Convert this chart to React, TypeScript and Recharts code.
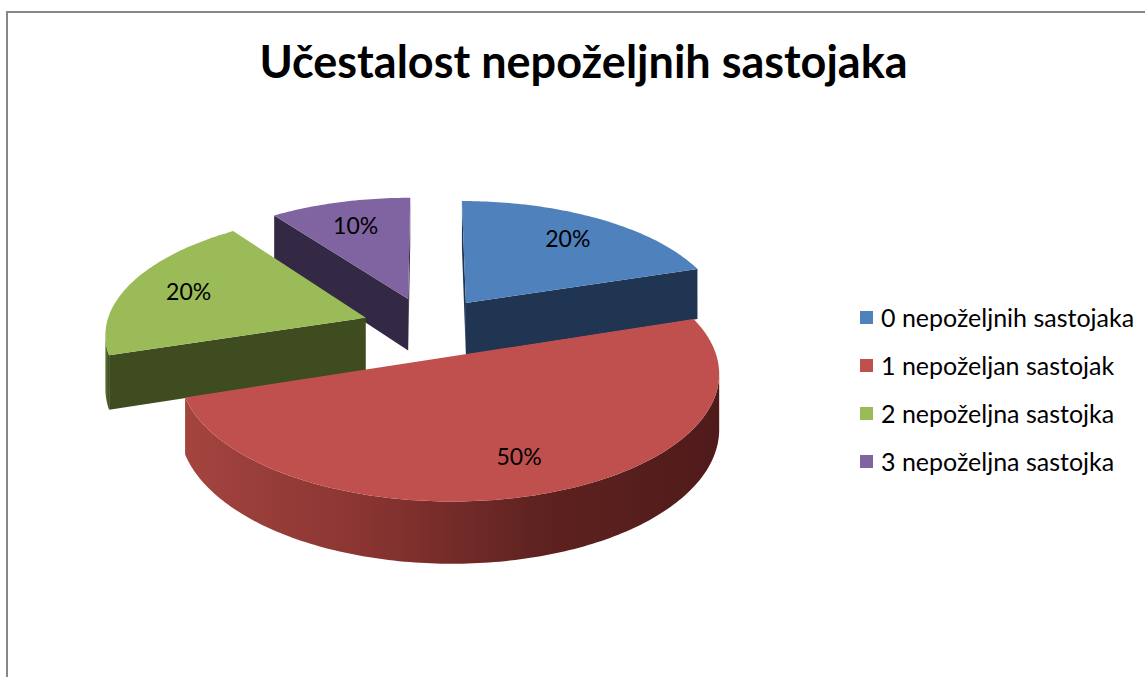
import React from 'react';
import { PieChart, Pie, Legend } from 'recharts';

const chartTitle = 'Učestalost nepoželjnih sastojaka';
const categories = ['0 nepoželjnih sastojaka', '1 nepoželjan sastojak', '2 nepoželjna sastojka', '3 nepoželjna sastojka'];
const shares = [20, 50, 20, 10];
const topColors = ['#4F81BD', '#C0504D', '#9BBB59', '#8064A2'];
const sideColors = ['#1F3552', '#7A2E2C', '#3E4C1F', '#342944'];
const wallStops = [
  ['#2E4F78', '#1E3350'],
  ['#A4443F', '#8A3532', '#5E2220', '#4F1B1A'],
  ['#5C7530', '#3E4C1F'],
  ['#4C3B63', '#342944'],
];

const data = categories.map((name, i) => ({ name, value: shares[i], idx: i, fill: topColors[i] }));

const W = 1145;
const H = 677;
const TILT = 0.46;
const PERSP = 0.12;
const DEPTH = 53;
const EXPLODE = 0.254;
const LABEL_R = 0.75;
const FONT = 'Lato, "Open Sans", sans-serif';

const rad = (d: number) => (d * Math.PI) / 180;

function projector(cx: number, cy: number, R: number) {
  return (x: number, z: number, h: number): [number, number] => {
    const s = 1 / (1 + (PERSP * z) / R);
    return [cx + x * s, cy - TILT * z * s + h * s];
  };
}

const pathOf = (pts: [number, number][]) =>
  pts.map((p, i) => `${i ? 'L' : 'M'}${p[0].toFixed(2)},${p[1].toFixed(2)}`).join(' ') + ' Z';

function makeShape(layer: number[]) {
  return (props: any) => {
    const idx = props.payload?.idx ?? props.idx ?? props.index;
    if (!layer.includes(idx)) return <g />;
    const { cx, cy, outerRadius: R, startAngle, endAngle } = props;
    const P = projector(cx, cy, R);
    const t0 = 90 - startAngle;
    const t1 = 90 - endAngle;
    const mid = rad((t0 + t1) / 2);
    const E = EXPLODE * R;
    const vx = E * Math.sin(mid);
    const vz = E * Math.cos(mid);
    const camZ = -R / PERSP;
    const steps = Math.max(4, Math.ceil(t1 - t0));
    const arc: { x: number; z: number; t: number }[] = [];
    for (let k = 0; k <= steps; k++) {
      const t = t0 + ((t1 - t0) * k) / steps;
      arc.push({ x: vx + R * Math.sin(rad(t)), z: vz + R * Math.cos(rad(t)), t });
    }
    const elems: React.ReactNode[] = [];
    const radial = (t: number, sign: number) => {
      const nx = sign * Math.cos(rad(t));
      const nz = -sign * Math.sin(rad(t));
      const vis = nx * (0 - vx) + nz * (camZ - vz) > 0;
      if (!vis) return null;
      const ox = vx + R * Math.sin(rad(t));
      const oz = vz + R * Math.cos(rad(t));
      return pathOf([P(vx, vz, 0), P(ox, oz, 0), P(ox, oz, DEPTH), P(vx, vz, DEPTH)]);
    };
    const r0 = radial(t0, -1);
    const r1 = radial(t1, 1);
    if (r0) elems.push(<path key="r0" d={r0} fill={sideColors[idx]} />);
    if (r1) elems.push(<path key="r1" d={r1} fill={sideColors[idx]} />);
    const runs: typeof arc[] = [];
    let cur: typeof arc = [];
    arc.forEach((a) => {
      const dx = Math.sin(rad(a.t));
      const dz = Math.cos(rad(a.t));
      const vis = dx * (0 - a.x) + dz * (camZ - a.z) > 0;
      if (vis) cur.push(a);
      else if (cur.length) {
        runs.push(cur);
        cur = [];
      }
    });
    if (cur.length) runs.push(cur);
    const gid = `wall-${idx}`;
    const stops = wallStops[idx];
    runs.forEach((run, ri) => {
      if (run.length < 2) return;
      const top = run.map((a) => P(a.x, a.z, 0));
      const bot = run.map((a) => P(a.x, a.z, DEPTH)).reverse();
      const xs = top.map((p) => p[0]);
      const minX = Math.min(...xs);
      const maxX = Math.max(...xs);
      elems.push(
        <linearGradient key={`g${ri}`} id={`${gid}-${ri}`} gradientUnits="userSpaceOnUse" x1={minX} y1={0} x2={maxX} y2={0}>
          {stops.map((c, si) => (
            <stop key={si} offset={si / (stops.length - 1)} stopColor={c} />
          ))}
        </linearGradient>
      );
      elems.push(<path key={`w${ri}`} d={pathOf([...top, ...bot])} fill={`url(#${gid}-${ri})`} />);
    });
    const topPts: [number, number][] = [P(vx, vz, 0), ...arc.map((a) => P(a.x, a.z, 0))];
    elems.push(<path key="top" d={pathOf(topPts)} fill={topColors[idx]} />);
    return <g>{elems}</g>;
  };
}

const renderLabel = (props: any) => {
  const { cx, cy, outerRadius: R, midAngle, percent } = props;
  const P = projector(cx, cy, R);
  const m = rad(90 - midAngle);
  const E = EXPLODE * R;
  const x = (E + LABEL_R * R) * Math.sin(m);
  const z = (E + LABEL_R * R) * Math.cos(m);
  const [px, py] = P(x, z, 0);
  return (
    <text x={px} y={py} textAnchor="middle" dominantBaseline="central" fill="#000" fontSize={23} fontFamily={FONT}>
      {`${Math.round(percent * 100)}%`}
    </text>
  );
};

const LegendBox = () => (
  <div style={{ fontFamily: FONT, fontSize: 25, color: '#000' }}>
    {categories.map((c, i) => (
      <div key={c} style={{ display: 'flex', alignItems: 'center', height: 48, whiteSpace: 'nowrap' }}>
        <span style={{ width: 13, height: 13, background: topColors[i], marginRight: 8, display: 'inline-block', flex: 'none' }} />
        <span>{c}</span>
      </div>
    ))}
  </div>
);

const pieCommon = {
  data,
  dataKey: 'value',
  nameKey: 'name',
  cx: 428,
  cy: 327,
  outerRadius: 260,
  startAngle: 90,
  endAngle: -270,
  stroke: 'none',
  isAnimationActive: false,
};

export default function App() {
  return (
    <div style={{ position: 'absolute', left: 0, top: 0, width: W, height: H, overflow: 'hidden', background: '#fff' }}>
      <div
        style={{
          position: 'absolute',
          left: 6,
          top: 11,
          width: W + 40,
          height: H + 40,
          border: '2px solid #878787',
          boxSizing: 'border-box',
        }}
      />
      <div
        style={{
          position: 'absolute',
          left: 0,
          width: 1167,
          top: 34,
          textAlign: 'center',
          fontFamily: FONT,
          fontWeight: 700,
          fontSize: 45,
          color: '#000',
          whiteSpace: 'nowrap',
        }}
      >
        {chartTitle}
      </div>
      <div style={{ position: 'absolute', left: 0, top: 0 }}>
        <PieChart width={W} height={H} margin={{ top: 0, right: 0, bottom: 0, left: 0 }}>
          <Pie {...pieCommon} legendType="none" shape={makeShape([3])} />
          <Pie {...pieCommon} legendType="none" shape={makeShape([0, 2])} />
          <Pie {...pieCommon} legendType="square" shape={makeShape([1])} label={renderLabel} labelLine={false} />
          <Legend
            content={<LegendBox />}
            wrapperStyle={{ position: 'absolute', left: 860, top: 293, width: 285 }}
          />
        </PieChart>
      </div>
    </div>
  );
}
